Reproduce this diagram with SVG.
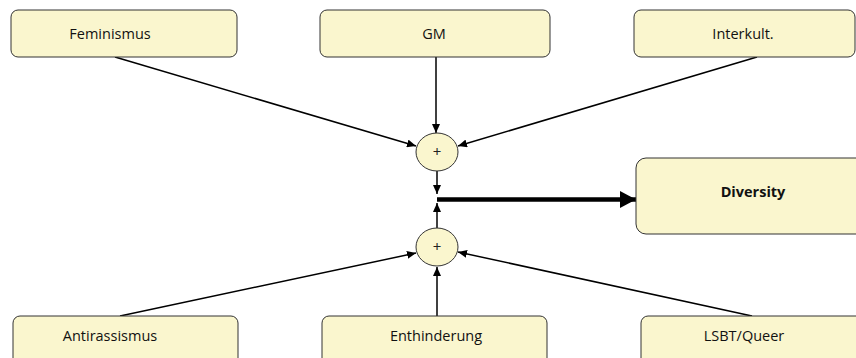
<svg xmlns="http://www.w3.org/2000/svg" width="856" height="358" viewBox="0 0 856 358">
<style>
.box{fill:#FAF6CE;stroke:#333;stroke-width:1}
.lbl{font-family:"Open Sans","Liberation Sans",sans-serif;font-size:14.5px;fill:#111;text-anchor:middle}
.bold{font-weight:bold}
.plus{font-family:"Open Sans","Liberation Sans",sans-serif;font-size:15px;fill:#222;text-anchor:middle}
.con{stroke:#000;stroke-width:1.5;fill:none;marker-end:url(#ah)}
.thick{stroke:#000;stroke-width:4.5;fill:none;marker-end:url(#ahb)}
</style>
<defs>
<marker id="ah" markerUnits="userSpaceOnUse" markerWidth="10" markerHeight="8" refX="9" refY="4" orient="auto"><path d="M0,0 L9,4 L0,8 Z" fill="#000"/></marker>
<marker id="ahb" markerUnits="userSpaceOnUse" markerWidth="17" markerHeight="17" refX="16" refY="8.5" orient="auto"><path d="M0,0 L16,8.5 L0,17 Z" fill="#000"/></marker>
</defs>
<g id="connectors">
<line class="con" x1="115" y1="57" x2="416" y2="146"/>
<line class="con" x1="436" y1="57" x2="436" y2="133"/>
<line class="con" x1="757" y1="57" x2="458" y2="146"/>
<line class="con" x1="437" y1="171" x2="437" y2="194"/>
<line class="con" x1="437" y1="228" x2="437" y2="203"/>
<line class="con" x1="120" y1="316" x2="416" y2="253"/>
<line class="con" x1="437" y1="316" x2="437" y2="267"/>
<line class="con" x1="752" y1="316" x2="458" y2="252"/>
<line class="thick" x1="437" y1="199.5" x2="636" y2="199.5"/>
</g>
<g id="feminismus"><rect class="box" x="11" y="10" width="226" height="47" rx="7"/><text class="lbl" x="110" y="39">Feminismus</text></g>
<g id="gm"><rect class="box" x="320" y="10" width="230" height="47" rx="7"/><text class="lbl" x="434" y="39">GM</text></g>
<g id="interkult"><rect class="box" x="634" y="10" width="221" height="47" rx="7"/><text class="lbl" x="743" y="39">Interkult.</text></g>
<g id="plus1"><ellipse class="box" cx="437" cy="152" rx="21" ry="19"/><text class="plus" x="437" y="157">+</text></g>
<g id="plus2"><ellipse class="box" cx="437" cy="247" rx="21" ry="19"/><text class="plus" x="437" y="252">+</text></g>
<g id="diversity"><rect class="box" x="636" y="158" width="230" height="76" rx="10"/><text class="lbl bold" x="753" y="197">Diversity</text></g>
<g id="antirassismus"><rect class="box" x="13" y="316" width="225" height="60" rx="7"/><text class="lbl" x="110" y="341">Antirassismus</text></g>
<g id="enthinderung"><rect class="box" x="322" y="316" width="225" height="60" rx="7"/><text class="lbl" x="436" y="341">Enthinderung</text></g>
<g id="lsbt"><rect class="box" x="641" y="316" width="230" height="60" rx="7"/><text class="lbl" x="744" y="341">LSBT/Queer</text></g>
</svg>
